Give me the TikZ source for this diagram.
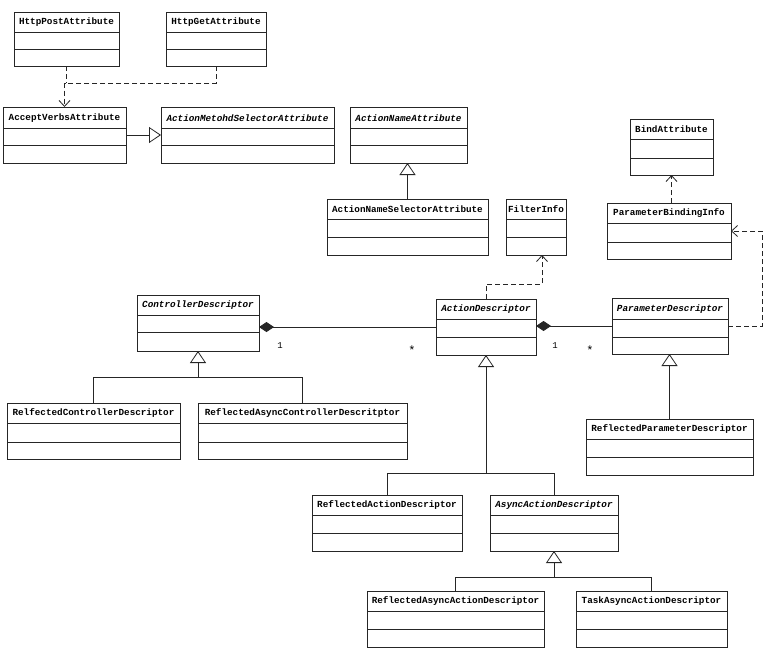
\documentclass[tikz,border=0pt]{standalone}
\usepackage{fontspec}
\setmonofont{Liberation Mono}
\usetikzlibrary{arrows.meta,fit,calc}
\tikzset{
  umlrect/.style={draw=black!85, line width=0.8pt, inner sep=0pt, outer sep=0pt},
  compline/.style={draw=black!85, line width=0.8pt},
  umltitle/.style={font=\ttfamily\bfseries\fontsize{9.3}{10}\selectfont, inner sep=0pt, anchor=center},
  mult/.style={font=\ttfamily\fontsize{9}{10}\selectfont, inner sep=0pt},
  star/.style={font=\ttfamily\fontsize{12}{12}\selectfont, inner sep=0pt},
  conn/.style={draw=black!85, line width=0.8pt},
  gen/.style={conn, -{Triangle[open, length=12pt, width=16pt, fill=white]}},
  dep/.style={conn, dash pattern=on 5pt off 3pt, -{Straight Barb[length=6pt, width=11pt]}},
  depline/.style={conn, dash pattern=on 5pt off 3pt},
  comp/.style={conn, -{Diamond[length=15pt, width=10pt]}},
}
\newcommand\umlbox[8]{%
  \node[umlrect, fit={(#2,#3) (#4,#5)}] (#1) {};
  \draw[compline] (#2,#6) -- (#4,#6) (#2,#7) -- (#4,#7);
  \node[umltitle] (#1-t) at ({(#2+#4)/2},{(#3+#6)/2+0.5}) {#8};
}
\begin{document}
\begin{tikzpicture}[x=1pt,y=-1pt]
\useasboundingbox[fill=white] (0,0) rectangle (777,653);
% classes
\umlbox{post}{14}{12}{119}{66}{32}{49}{HttpPostAttribute}
\umlbox{get}{166}{12}{266}{66}{32}{49}{HttpGetAttribute}
\umlbox{accept}{3}{107}{126}{163}{128}{145}{AcceptVerbsAttribute}
\umlbox{msel}{161}{107}{334}{163}{128}{145}{\itshape ActionMetohdSelectorAttribute}
\umlbox{nattr}{350}{107}{467}{163}{128}{145}{\itshape ActionNameAttribute}
\umlbox{nsel}{327}{199}{488}{255}{219}{237}{ActionNameSelectorAttribute}
\umlbox{fi}{506}{199}{566}{255}{219}{237}{FilterInfo}
\umlbox{bind}{630}{119}{713}{175}{139}{158}{BindAttribute}
\umlbox{pbi}{607}{203}{731}{259}{223}{242}{ParameterBindingInfo}
\umlbox{cd}{137}{295}{259}{351}{315}{332}{\itshape ControllerDescriptor}
\umlbox{ad}{436}{299}{536}{355}{319}{337}{\itshape ActionDescriptor}
\umlbox{pd}{612}{298}{728}{354}{319}{337}{\itshape ParameterDescriptor}
\umlbox{rpd}{586}{419}{753}{475}{439}{457}{ReflectedParameterDescriptor}
\umlbox{rcd}{7}{403}{180}{459}{423}{442}{RelfectedControllerDescriptor}
\umlbox{racd}{198}{403}{407}{459}{423}{442}{ReflectedAsyncControllerDescritptor}
\umlbox{rad}{312}{495}{462}{551}{515}{533}{ReflectedActionDescriptor}
\umlbox{aad}{490}{495}{618}{551}{515}{533}{\itshape AsyncActionDescriptor}
\umlbox{raad}{367}{591}{544}{647}{611}{629}{ReflectedAsyncActionDescriptor}
\umlbox{taad}{576}{591}{727}{647}{611}{629}{TaskAsyncActionDescriptor}
% helper coordinates
\coordinate (ydep) at (0,83);
\coordinate (yfi) at (0,284);
\coordinate (xright) at (762,0);
\coordinate (ycd) at (0,377);
\coordinate (yad) at (0,473);
\coordinate (yaad) at (0,577);
% dependencies to AcceptVerbsAttribute
\draw[depline] (post.south) -- (post.south |- ydep);
\draw[dep] (get.south) |- (accept.north |- ydep) -- (accept.north);
% generalizations
\draw[gen] (accept.east) -- (msel.west);
\draw[gen] (nsel.north) -- (nsel.north |- nattr.south);
\draw[gen] (rpd.north) -- (rpd.north |- pd.south);
% dependencies
\draw[dep] (pbi.north -| bind.south) -- (bind.south);
\draw[dep] (ad.north) |- ($(fi.south |- yfi)+(6,0)$) -- ($(fi.south)+(6,0)$);
\draw[dep] (pd.east) -- (pd.east -| xright) |- (pbi.east);
% compositions
\draw[comp] (ad.west) -- (ad.west -| cd.east);
\draw[comp] (pd.west) -- (pd.west -| ad.east);
\node[mult] (m1) at (280,346) {1};
\node[star] (m2) at (412,350) {*};
\node[mult] (m3) at (555,346) {1};
\node[star] (m4) at (590,350) {*};
% inheritance trees
\draw[gen] (rcd.north) |- (cd.south |- ycd) -- (cd.south);
\draw[conn] (racd.north) |- (cd.south |- ycd);
\draw[gen] (rad.north) |- (ad.south |- yad) -- (ad.south);
\draw[conn] (aad.north) |- (ad.south |- yad);
\draw[gen] (raad.north) |- (aad.south |- yaad) -- (aad.south);
\draw[conn] (taad.north) |- (aad.south |- yaad);
\end{tikzpicture}
\end{document}
